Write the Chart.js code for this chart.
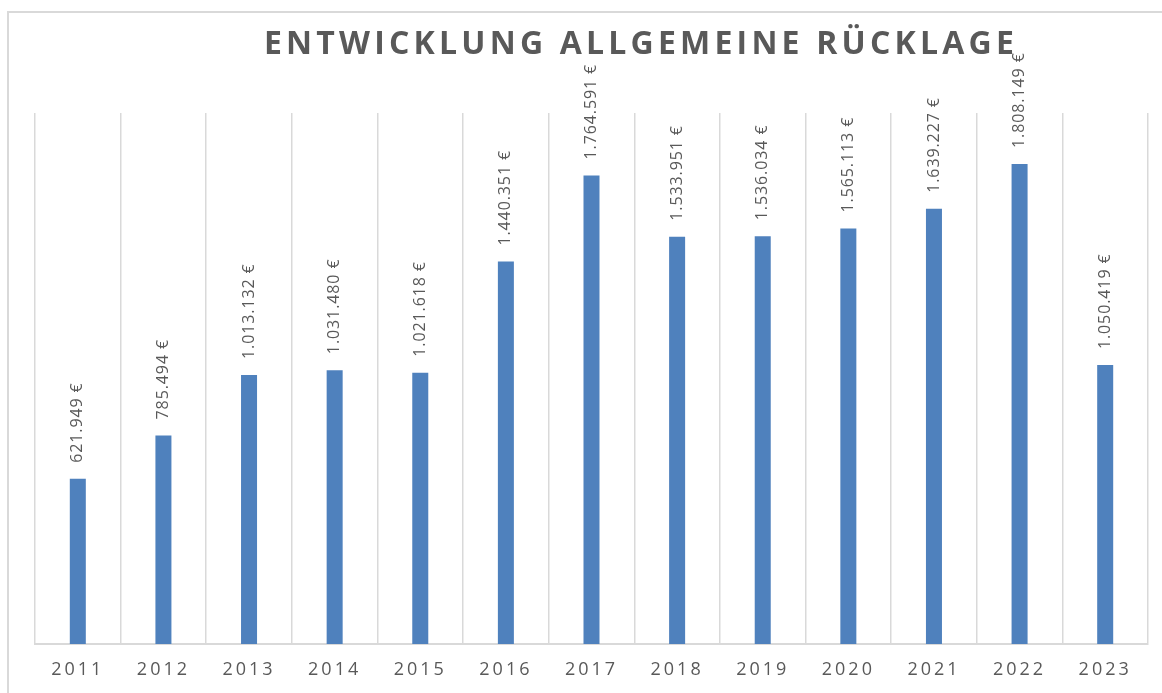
<!DOCTYPE html>
<html>
<head>
<meta charset="utf-8">
<script src="https://cdn.jsdelivr.net/npm/chart.js@4.4.1/dist/chart.umd.min.js"></script>
<style>
  html, body { margin: 0; padding: 0; background: #ffffff; overflow: hidden; }
  #wrap { position: absolute; left: 0; top: 0; width: 1162px; height: 693px; }
  #frame { position: absolute; left: 7px; top: 11px; width: 3000px; height: 3000px;
           border-left: 2px solid #d9d9d9; border-top: 2px solid #d9d9d9; pointer-events: none; }
</style>
</head>
<body>
<div id="wrap"><canvas id="c" width="1162" height="693"></canvas></div>
<div id="frame"></div>
<script>
const chartTitle = 'ENTWICKLUNG ALLGEMEINE RÜCKLAGE';
const years = ['2011','2012','2013','2014','2015','2016','2017','2018','2019','2020','2021','2022','2023'];
const reserve = [621949, 785494, 1013132, 1031480, 1021618, 1440351, 1764591, 1533951, 1536034, 1565113, 1639227, 1808149, 1050419];
const yMin = 0;
const yMax = 2000000;

function fmtEuro(v) {
  const s = String(Math.round(v));
  let out = '';
  for (let i = 0; i < s.length; i++) {
    if (i > 0 && (s.length - i) % 3 === 0) out += '.';
    out += s[i];
  }
  return out + ' €';
}

const spacingPlugin = {
  id: 'spacing',
  beforeDraw(chart) {
    chart.ctx.letterSpacing = '3px';
  }
};

const labelPlugin = {
  id: 'barLabels',
  afterDatasetsDraw(chart) {
    const ctx = chart.ctx;
    const meta = chart.getDatasetMeta(0);
    ctx.save();
    ctx.letterSpacing = '0.9px';
    ctx.font = '16px "Open Sans"';
    ctx.fillStyle = '#595959';
    ctx.textAlign = 'left';
    ctx.textBaseline = 'middle';
    meta.data.forEach((bar, i) => {
      ctx.save();
      ctx.translate(bar.x, bar.y - 16);
      ctx.rotate(-Math.PI / 2);
      ctx.fillText(fmtEuro(reserve[i]), 0, 0);
      ctx.restore();
    });
    ctx.restore();
  }
};

const titlePlugin = {
  id: 'spacedTitle',
  afterDraw(chart) {
    const ctx = chart.ctx;
    ctx.save();
    ctx.letterSpacing = '4.2px';
    ctx.font = 'bold 32px "Open Sans"';
    ctx.fillStyle = '#595959';
    ctx.textAlign = 'center';
    ctx.textBaseline = 'alphabetic';
    ctx.fillText(chartTitle, 641, 54);
    ctx.restore();
  }
};

new Chart(document.getElementById('c'), {
  type: 'bar',
  data: {
    labels: years,
    datasets: [{
      data: reserve,
      backgroundColor: '#4f81bd',
      borderWidth: 0,
      categoryPercentage: 1.0,
      barPercentage: 0.187
    }]
  },
  options: {
    responsive: false,
    animation: false,
    events: [],
    layout: { padding: { left: 35, right: 14, top: 113, bottom: 12 } },
    plugins: {
      legend: { display: false },
      title: { display: false },
      tooltip: { enabled: false }
    },
    scales: {
      x: {
        grid: { display: true, offset: true, color: '#d9d9d9', lineWidth: 1.5, drawTicks: false },
        border: { display: true, color: '#d9d9d9', width: 2 },
        ticks: { color: '#595959', font: { family: 'Open Sans', size: 18 }, padding: 15, maxRotation: 0, autoSkip: false },
        afterFit(scale) { scale.height = 37; }
      },
      y: {
        display: false,
        min: yMin,
        max: yMax
      }
    }
  },
  plugins: [spacingPlugin, labelPlugin, titlePlugin]
});
</script>
</body>
</html>
